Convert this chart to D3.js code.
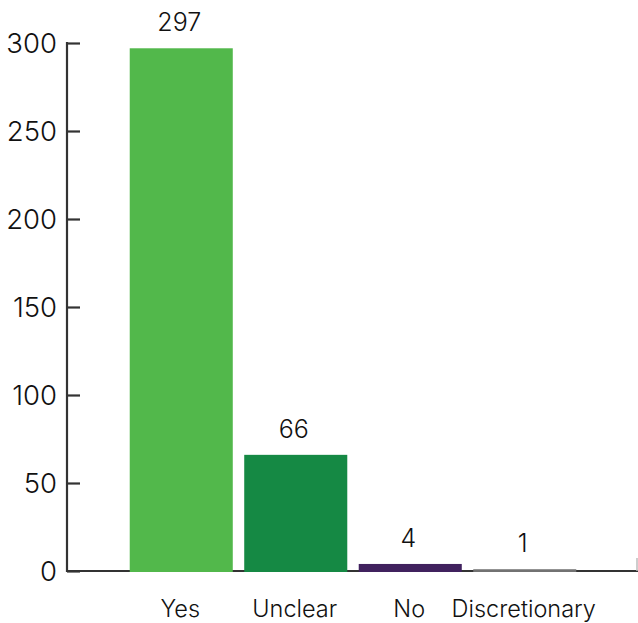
<!DOCTYPE html>
<html>
<head>
<meta charset="utf-8">
<script src="https://cdn.jsdelivr.net/npm/d3@7"></script>
<style>
  html, body { margin: 0; padding: 0; background: #fff; }
  svg { display: block; font-family: Inter, "Noto Sans", sans-serif; font-weight: 300; }
</style>
</head>
<body>
<svg id="chart" width="638" height="623"></svg>
<script>
// Responses per category
const categories = ["Yes", "Unclear", "No", "Discretionary"];
const counts = [297, 66, 4, 1];
const barColors = ["#52b84b", "#158944", "#40215e", "#727272"];
const yTicks = [0, 50, 100, 150, 200, 250, 300];

const svg = d3.select("#chart");
const axisX = 67, baseY = 571, topY = 43, rightX = 638;

const y = d3.scaleLinear().domain([0, 300]).range([baseY, topY]);
const x = d3.scaleBand().domain(categories).range([124, 582])
  .paddingInner(0.1).paddingOuter(0.05);

const axisColor = "#333333";

// x baseline
svg.append("line")
  .attr("x1", axisX - 1).attr("x2", rightX)
  .attr("y1", baseY).attr("y2", baseY)
  .attr("stroke", axisColor).attr("stroke-width", 2.2);

// small closing tick at the right end
svg.append("line")
  .attr("x1", rightX - 1).attr("x2", rightX - 1)
  .attr("y1", baseY - 13).attr("y2", baseY)
  .attr("stroke", "#bdbdbd").attr("stroke-width", 1.5);

// y axis with inward ticks
const yAxis = d3.axisRight(y).tickValues(yTicks).tickSize(13).tickSizeOuter(0).tickFormat("");
const gy = svg.append("g").attr("transform", `translate(${axisX},0)`).call(yAxis);
gy.select(".domain").attr("stroke", axisColor).attr("stroke-width", 2.2)
  .attr("d", `M0,${topY - 1}V${baseY + 1}`);
gy.selectAll(".tick line").attr("stroke", axisColor).attr("stroke-width", 2.2);

// y tick labels
svg.append("g").selectAll("text").data(yTicks).join("text")
  .attr("x", axisX - 10).attr("y", d => y(d))
  .attr("dy", "0.36em")
  .attr("text-anchor", "end")
  .attr("font-size", 27.5)
  .attr("fill", "#111")
  .text(d => d);

// bars
const data = categories.map((c, i) => ({ c, v: counts[i], color: barColors[i] }));
svg.append("g").selectAll("rect").data(data).join("rect")
  .attr("x", d => x(d.c))
  .attr("width", x.bandwidth())
  .attr("y", d => y(d.v))
  .attr("height", d => y(0) - y(d.v) + 1)
  .attr("fill", d => d.color);

// value labels
svg.append("g").selectAll("text").data(data).join("text")
  .attr("x", d => x(d.c) + x.bandwidth() / 2 - 2)
  .attr("y", d => y(d.v) - 17)
  .attr("text-anchor", "middle")
  .attr("font-size", 25)
  .attr("fill", "#111")
  .text(d => d.v);

// category labels
svg.append("g").selectAll("text").data(categories).join("text")
  .attr("x", d => x(d) + x.bandwidth() / 2 - 1)
  .attr("y", 617)
  .attr("text-anchor", "middle")
  .attr("font-size", 23.5)
  .attr("fill", "#111")
  .text(d => d);
</script>
</body>
</html>
